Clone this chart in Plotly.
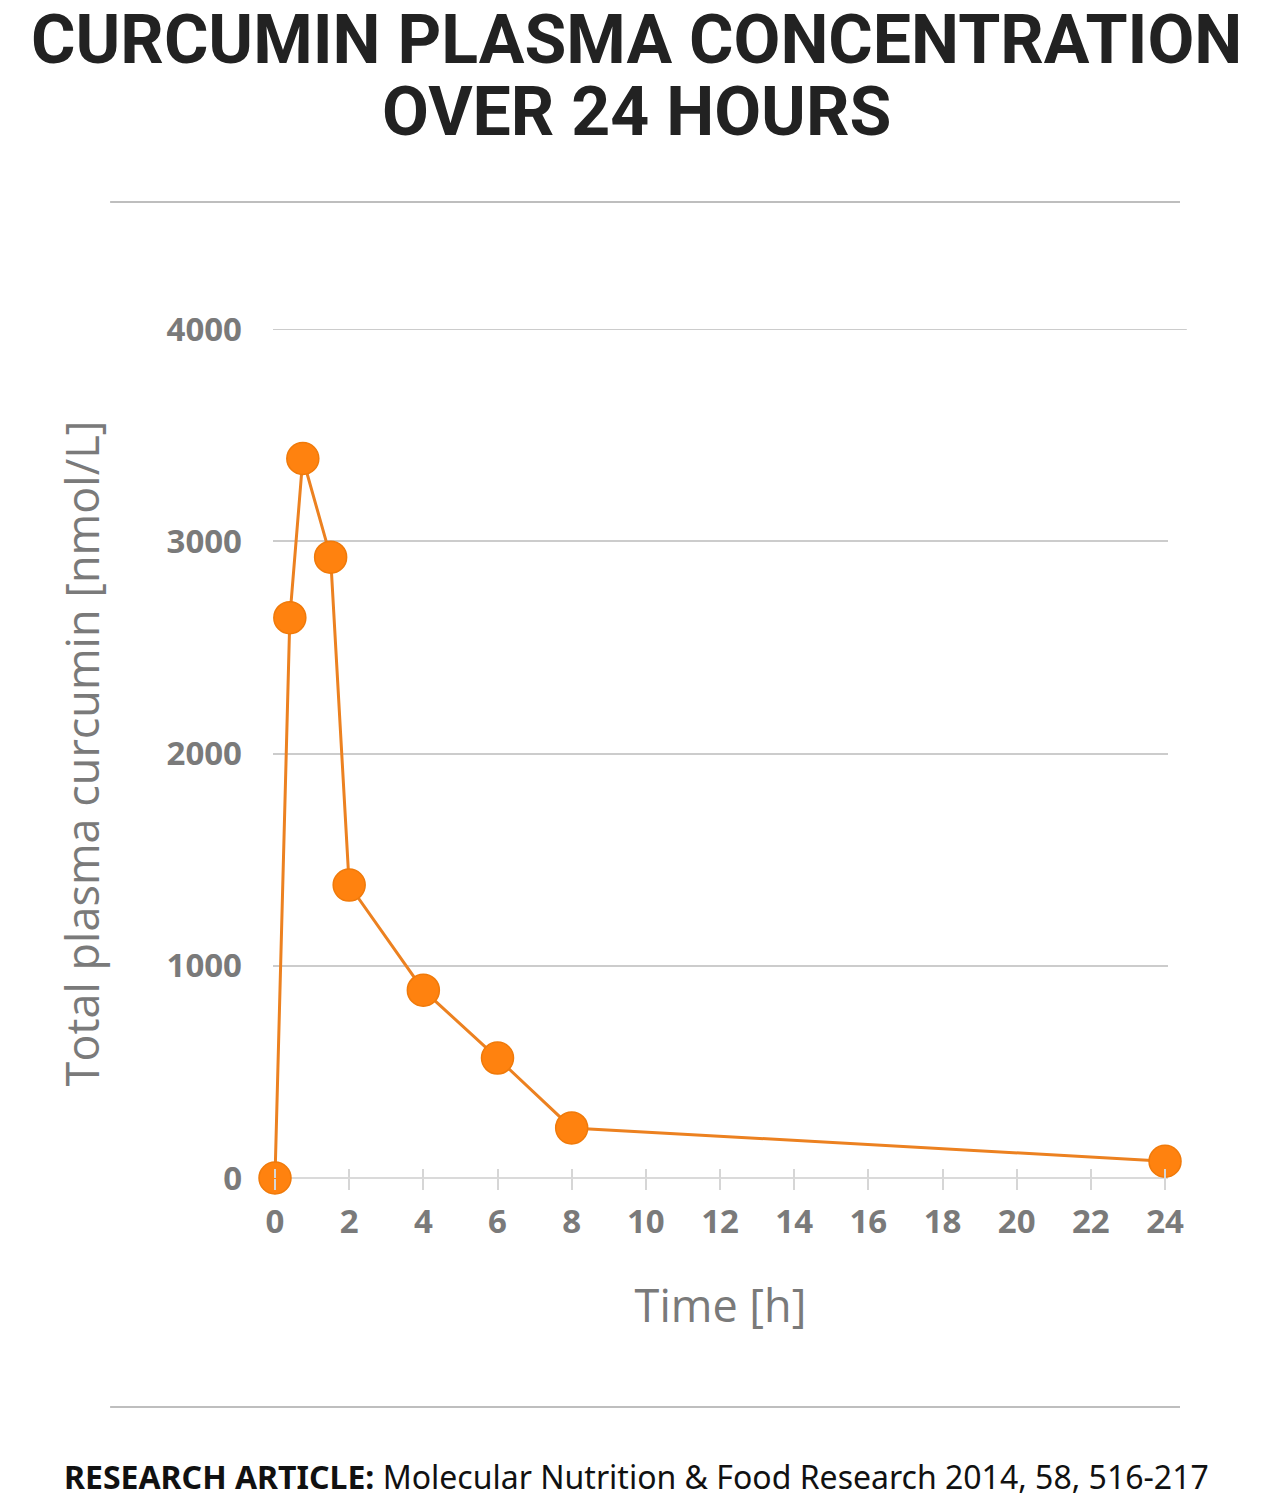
import plotly.graph_objects as go

# Values
time_h = [0, 0.4, 0.75, 1.5, 2, 4, 6, 8, 24]
curcumin_nmol = [0, 2640, 3390, 2925, 1380, 885, 565, 236, 79]
x_ticks = list(range(0, 25, 2))
y_ticks = [0, 1000, 2000, 3000, 4000]

title_line1 = "CURCUMIN PLASMA CONCENTRATION"
title_line2 = "OVER 24 HOURS"
footer = "<b>RESEARCH ARTICLE:</b> Molecular Nutrition & Food Research 2014, 58, 516-217"

orange = "#FF820F"
gray_txt = "#7A7A7A"
tick_font = dict(size=33, color=gray_txt, family="Open Sans, sans-serif", weight="bold")

fig = go.Figure()

fig.add_trace(go.Scatter(
    x=time_h,
    y=curcumin_nmol,
    mode="lines+markers",
    line=dict(color="#EC8120", width=3),
    marker=dict(size=32, color=orange, line=dict(width=1.5, color="#F07A0A")),
    cliponaxis=False,
    showlegend=False,
))

# invisible trace so the overlay axis (upper half of the ticks) gets drawn
fig.add_trace(go.Scatter(
    x=time_h[:1],
    y=curcumin_nmol[:1],
    xaxis="x2",
    mode="markers",
    marker=dict(opacity=0),
    hoverinfo="skip",
    showlegend=False,
))

fig.update_layout(
    width=1271,
    height=1500,
    margin=dict(l=273, r=103, t=329, b=322),
    plot_bgcolor="white",
    paper_bgcolor="white",
    font=dict(family="Open Sans, sans-serif", color=gray_txt),
    xaxis=dict(
        range=[-0.054, 24.08],
        tickvals=x_ticks,
        ticks="outside",
        ticklen=11,
        tickwidth=1.5,
        tickcolor="#D6D6D6",
        showgrid=False,
        zeroline=False,
        showline=False,
        tickfont=tick_font,
        ticklabelstandoff=3,
        title=dict(text="Time [h]", font=dict(size=45, color=gray_txt), standoff=48),
    ),
    xaxis2=dict(
        overlaying="x",
        matches="x",
        side="bottom",
        tickvals=x_ticks,
        ticks="inside",
        ticklen=9,
        tickwidth=1.5,
        tickcolor="#D6D6D6",
        showticklabels=False,
        showgrid=False,
        zeroline=False,
        showline=False,
    ),
    yaxis=dict(
        range=[0, 4000],
        tickvals=y_ticks,
        showgrid=True,
        gridcolor="#CCCCCC",
        gridwidth=2,
        zeroline=True,
        zerolinecolor="#DADADA",
        zerolinewidth=2,
        showline=False,
        ticks="",
        tickfont=tick_font,
        ticklabelstandoff=30,
        title=dict(text="Total plasma curcumin [nmol/L]", font=dict(size=45, color=gray_txt), standoff=52),
    ),
)

# title, two lines
title_font = dict(family="Roboto, sans-serif", size=68, color="#222222", weight="bold")
fig.add_annotation(text=title_line1, xref="paper", yref="paper", x=0.4056, y=1.3404,
                   xanchor="center", yanchor="middle", showarrow=False, font=title_font)
fig.add_annotation(text=title_line2, xref="paper", yref="paper", x=0.4056, y=1.2555,
                   xanchor="center", yanchor="middle", showarrow=False, font=title_font)

# footer
fig.add_annotation(text=footer, xref="paper", yref="paper", x=-0.236, y=-0.352,
                   xanchor="left", yanchor="middle", showarrow=False,
                   font=dict(family="Noto Sans, sans-serif", size=32, color="#111111"))

# separator rules and the top gridline (a bit longer than the others)
for yy in [1.1496, -0.2697]:
    fig.add_shape(type="line", xref="paper", yref="paper", x0=-0.182, x1=1.0134, y0=yy, y1=yy,
                  line=dict(color="#A8A8A8", width=1.5))
fig.add_shape(type="line", xref="paper", yref="y", x0=0.0, x1=1.021, y0=4000, y1=4000,
              line=dict(color="#CCCCCC", width=2))

fig.write_html("out.html", config={"displayModeBar": False},
               post_script="document.body.style.margin='0';")
